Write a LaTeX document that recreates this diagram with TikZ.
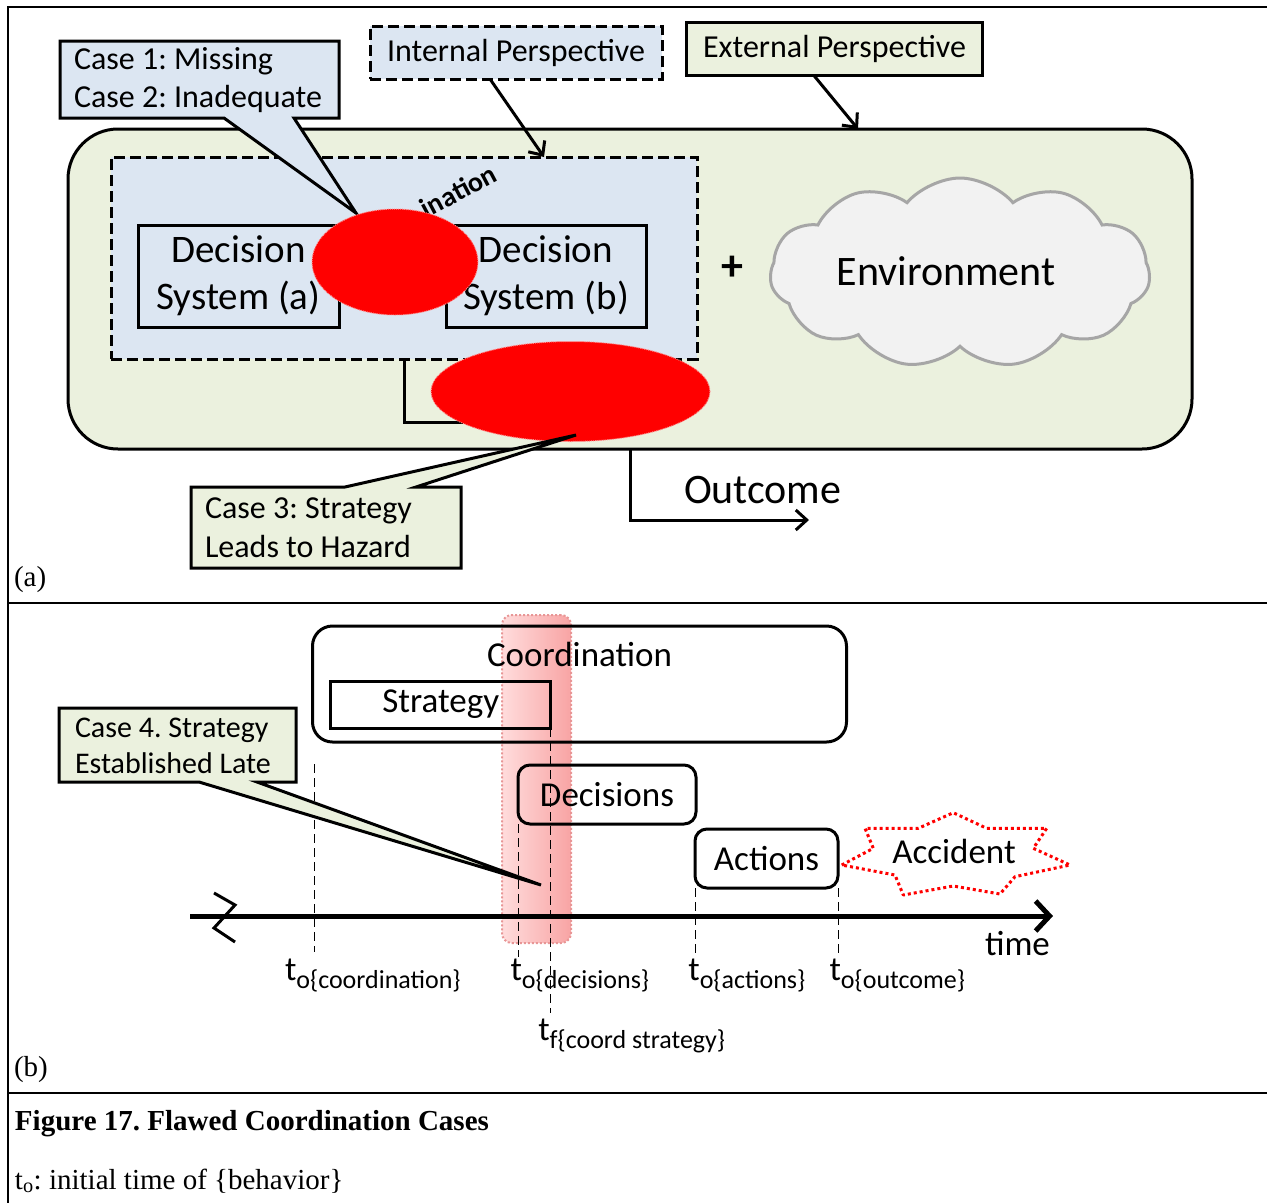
\documentclass[tikz,border=0pt]{standalone}
\usepackage{fontspec}
\setmainfont{Carlito}
\newfontfamily\capfont{Liberation Serif}
\usetikzlibrary{arrows.meta,shapes.symbols,shapes.geometric,calc}

\definecolor{paleblue}{HTML}{DCE6F2}
\definecolor{palegreen}{HTML}{EBF1DE}
\definecolor{cloudfill}{HTML}{F2F2F2}
\definecolor{cloudline}{HTML}{A6A6A6}
\definecolor{pinkL}{HTML}{FFDCDC}
\definecolor{pinkR}{HTML}{F8A4A4}
\definecolor{pinkline}{HTML}{E89696}

\newcommand{\fsz}[2]{\fontsize{#1}{#2}\selectfont}
\newcommand{\tmark}[2]{{\fsz{34}{40}t}\raisebox{-8pt}{\fsz{26}{30}#1\{#2\}}}
\frenchspacing

\begin{document}
\begin{tikzpicture}[x=1pt,y=-1pt,
  every node/.style={inner sep=0pt, outer sep=0pt},
  framel/.style={line width=2.5pt},
  bx/.style={draw, line width=3pt},
  dashbx/.style={draw, line width=3pt, dash pattern=on 11pt off 5pt},
  arr/.style={line width=3pt, -{Straight Barb[length=11pt,width=20pt]}},
  vdash/.style={line width=1pt, dash pattern=on 9pt off 5pt},
  hazard/.style={ellipse, fill=red, draw=red!45, line width=1pt, densely dotted},
  calltxt/.style={align=left, anchor=west, font=\fsz{32}{38}},
  tag/.style={font=\capfont\fsz{29}{34}, anchor=base west}
]
\useasboundingbox (0,0) rectangle (1267,1203);

% ---- panel frame ----
\draw[framel] (1267,7) -- (8,7) -- (8,1203);
\draw[framel] (8,603) -- (1267,603);
\draw[framel] (8,1093) -- (1267,1093);
\node[tag] (tagA) at (14,586) {(a)};
\node[tag] (tagB) at (14,1076) {(b)};

% ---- panel (a): system view ----
\node[bx, fill=palegreen, rounded corners=50pt, minimum width=1124pt, minimum height=320pt] (system) at (630,289) {};
\node[dashbx, fill=paleblue, minimum width=586pt, minimum height=202pt] (coordA) at (404,258) {};
\node[bx, minimum width=201pt, minimum height=102pt, align=center, font=\fsz{39}{47}] (dsa) at (238.5,276) {Decision\\System (a)};
\node[bx, minimum width=200pt, minimum height=102pt, align=center, font=\fsz{39}{47}] (dsb) at (546,276) {Decision\\System (b)};
\node[font=\bfseries\fsz{28}{32}, rotate=28, anchor=base east] (coordword) at (499,180) {ination};

% strategy link out of the coordination box
\coordinate (stratIn) at (475,422);
\draw[line width=3pt] (coordA.south) |- (stratIn);

% Case 1/2 callout
\coordinate (tip1) at (356,213);
\node[minimum width=279pt, minimum height=77pt] (case1) at (199.5,79.5) {};
\draw[bx, fill=paleblue, line join=miter] (case1.south west) -- (case1.north west) -- (case1.north east) -- (case1.south east) -- (294,118) -- (tip1) -- (224,118) -- cycle;
\node[calltxt] (case1txt) at (74,80) {Case 1: Missing\\Case 2: Inadequate};

% flaw markers
\node[hazard, minimum width=166pt, minimum height=106pt] (hazA) at (395,262) {};
\node[hazard, minimum width=279pt, minimum height=100pt] (hazB) at (570.5,391.5) {};

% Case 3 callout
\coordinate (tip3) at (576,435);
\node[minimum width=270pt, minimum height=81pt] (case3) at (326,527.5) {};
\draw[bx, fill=palegreen, line join=miter] (case3.south west) -- (case3.north west) -- (345,487) -- (tip3) -- (416,487) -- (case3.north east) -- (case3.south east) -- cycle;
\node[calltxt, font=\fsz{32}{39}] (case3txt) at (205,528) {Case 3: Strategy\\Leads to Hazard};

% perspectives
\node[dashbx, fill=paleblue, minimum width=292pt, minimum height=53pt, font=\fsz{32}{38}] (intp) at (516,52.5) {Internal Perspective};
\node[bx, fill=palegreen, minimum width=296pt, minimum height=53pt, font=\fsz{32}{38}] (extp) at (834.5,48.5) {External Perspective};
\draw[arr] ($(intp.south west)+(120,0)$) -- ($(coordA.north west)+(433,0)$);
\draw[arr] ($(extp.south west)+(127,0)$) -- ($(system.north west)+(790,0)$);

% environment
\node[font=\bfseries\fsz{44}{50}] (plus) at (732,268) {+};
\node[cloud, cloud puffs=11, cloud puff arc=100, cloud ignores aspect, draw=cloudline, fill=cloudfill, line width=3pt, minimum width=380pt, minimum height=190pt] (envc) at (960,273) {};
\node[font=\fsz{42}{50}] (envtxt) at (946,271) {Environment};

% outcome
\coordinate (outEnd) at (809,520);
\draw[arr] ($(system.south west)+(562,0)$) |- (outEnd);
\node[font=\fsz{42}{50}, anchor=base west] (outtxt) at (684,503) {Outcome};

% ---- panel (b): timeline ----
\node[rounded corners=10pt, minimum width=69pt, minimum height=328pt, left color=pinkL, right color=pinkR, draw=pinkline, line width=2pt, dotted] (late) at (536.5,779) {};
\node[bx, rounded corners=20pt, minimum width=534pt, minimum height=116pt] (coordB) at (579.5,684) {};
\node[font=\fsz{35}{42}] (coordBtxt) at (579.5,654) {Coordination};
\node[bx, minimum width=220pt, minimum height=47pt, font=\fsz{35}{42}] (strat) at (440.75,704.5) {\raisebox{-2pt}{Strategy}};
\node[bx, rounded corners=12pt, minimum width=178pt, minimum height=59pt, font=\fsz{35}{42}] (dec) at (607,794.5) {Decisions};
\node[bx, rounded corners=12pt, minimum width=143pt, minimum height=59pt, font=\fsz{35}{42}] (act) at (766.5,858.5) {Actions};

% accident burst
\draw[red, line width=3pt, dash pattern=on 3pt off 3pt, line join=round]
  (841.7,865) -- (873.3,848.3) -- (865,828.3) -- (918.3,828.3) -- (953.3,812.7) -- (986.7,828.3)
  -- (1046.7,828.3) -- (1033.3,848.3) -- (1070,865) -- (1015,876.7) -- (1000,894) -- (953.3,886)
  -- (903.3,895) -- (895,875) -- cycle;
\node[font=\fsz{35}{42}] (acc) at (954,851.5) {Accident};

% time marks
\draw[vdash] (314,764) -- (314,952);
\draw[vdash] (dec.south west) -- ++(0,133);
\draw[vdash] (strat.south east) -- ++(0,285);
\draw[vdash] (act.south west) -- ++(0,69);
\draw[vdash] (act.south east) -- ++(0,69);

% time axis
\coordinate (tStart) at (190,916);
\coordinate (tEnd) at (1053,916);
\draw[line width=5pt, -{Straight Barb[length=14pt,width=30pt]}] (tStart) -- (tEnd);
\draw[line width=3pt] (214,893) -- (235,905) -- (214,928) -- (235,942);
\node[font=\fsz{35}{42}, anchor=base west] (timeword) at (985,955) {time};

\node[anchor=base west] (tcoord) at (285,980) {\tmark{o}{coordination}};
\node[anchor=base west] (tdec) at (510.5,980) {\tmark{o}{decisions}};
\node[anchor=base west] (tact) at (688.4,980) {\tmark{o}{actions}};
\node[anchor=base west] (tout) at (829.6,980) {\tmark{o}{outcome}};
\node[anchor=base west] (tstrat) at (538.3,1040) {\tmark{f}{coord strategy}};

% Case 4 callout
\coordinate (tip4) at (541,885);
\node[minimum width=237pt, minimum height=74pt] (case4) at (177.5,745) {};
\draw[bx, fill=palegreen, line join=miter] (case4.north west) -- (case4.north east) -- (case4.south east) -- (257,782) -- (tip4) -- (199,782) -- (case4.south west) -- cycle;
\node[calltxt, font=\fsz{30}{36}] (case4txt) at (75,746) {Case 4. Strategy\\Established Late};

% ---- caption ----
\node[font=\capfont\bfseries\fsz{29}{34}, anchor=base west] (figcap) at (15,1130) {Figure 17. Flawed Coordination Cases};
\node[font=\capfont\fsz{29}{34}, anchor=base west] (legend) at (15,1189) {t\textsubscript{o}: initial time of \{behavior\}};
\end{tikzpicture}
\end{document}
